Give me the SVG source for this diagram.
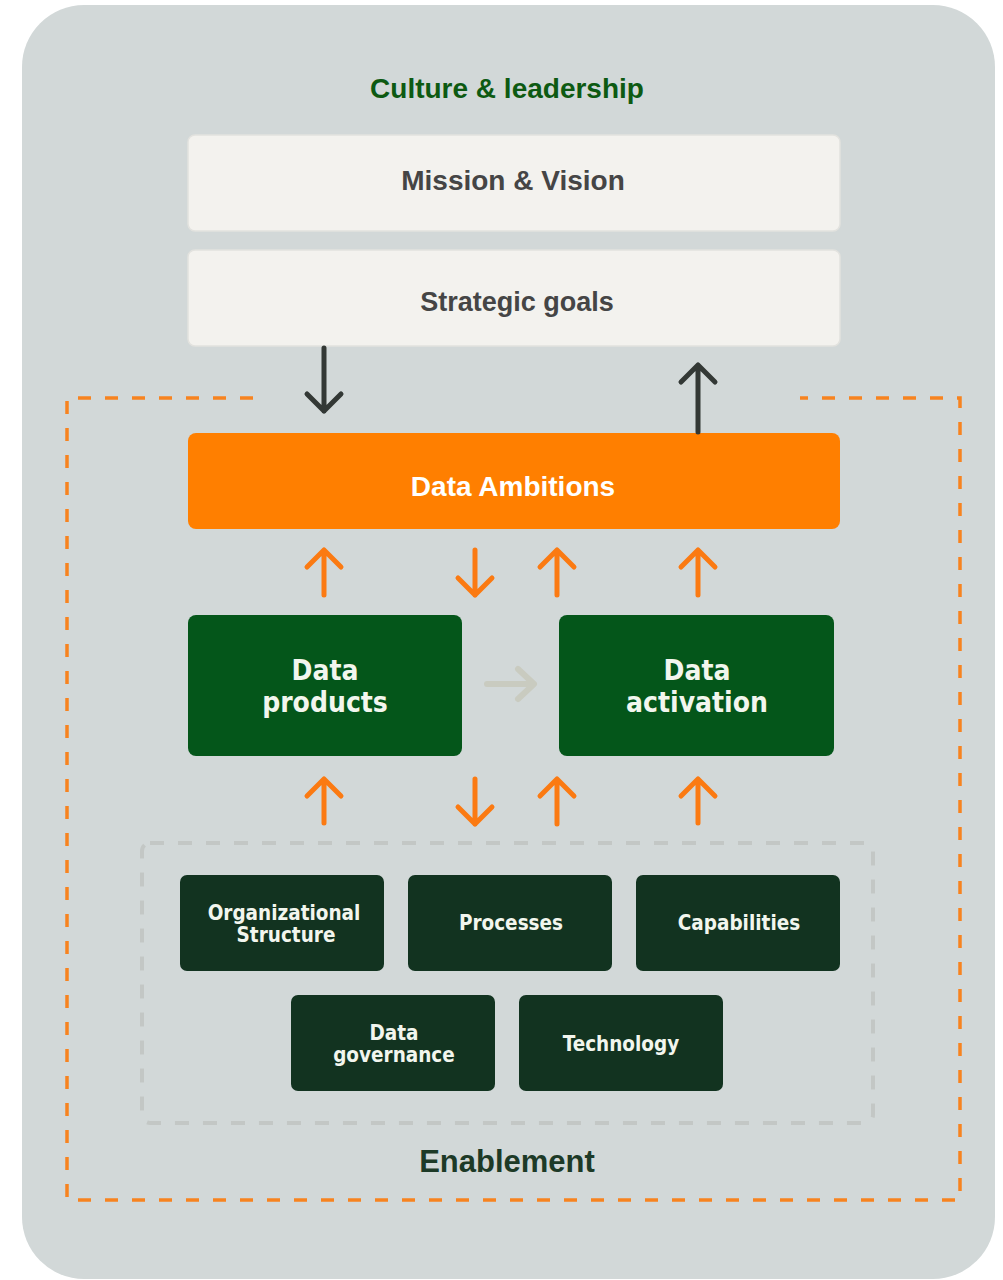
<svg xmlns="http://www.w3.org/2000/svg" width="1003" height="1280" viewBox="0 0 1003 1280">
<defs>
<style>
.bg{fill:#d2d8d8}
.light{fill:#f3f2ee;stroke:#e2e2de;stroke-width:1.5}
.ttl{font-family:"Liberation Sans",Arial,sans-serif;font-weight:bold;text-anchor:middle}
.grn{fill:#04561a}
.dk{fill:#123320}
.gt{font-family:"DejaVu Sans Condensed","DejaVu Sans",sans-serif;font-stretch:condensed;font-weight:bold;fill:#f2f6ee;text-anchor:middle}
.oa{fill:none;stroke:#fb7a12;stroke-width:5;stroke-linecap:round;stroke-linejoin:round}
.da{fill:none;stroke:#333835;stroke-width:5;stroke-linecap:round;stroke-linejoin:round}
.ga{fill:none;stroke:#c9cbc0;stroke-width:6;stroke-linecap:round;stroke-linejoin:round}
.od{fill:none;stroke:#f7831f;stroke-width:3.5;stroke-dasharray:13 14}
.gd{fill:none;stroke:#c3c7c5;stroke-width:4;stroke-dasharray:14 14}
</style>
</defs>
<rect width="1003" height="1280" fill="#ffffff"/>
<rect class="bg" x="22" y="5" width="973" height="1274" rx="62"/>
<text class="ttl" x="507" y="98" font-size="28" fill="#0d5a12">Culture &amp; leadership</text>

<g id="enablement-frame">
<path class="od" d="M253,398 H67 V1200 H960 V398 H800"/>
</g>
<g id="enablement-inner">
<rect class="gd" x="142" y="843" width="731" height="280" rx="8"/>
</g>

<g id="mission">
<rect class="light" x="188" y="135" width="652" height="96" rx="7"/>
<text class="ttl" x="513" y="190" font-size="28" fill="#454545">Mission &amp; Vision</text>
</g>
<g id="strategic">
<rect class="light" x="188" y="250" width="652" height="96" rx="7"/>
<text class="ttl" x="517" y="311" font-size="27" fill="#454545">Strategic goals</text>
</g>
<g id="ambitions">
<rect x="188" y="433" width="652" height="96" rx="8" fill="#ff7f00"/>
<text class="ttl" x="513" y="496" font-size="28" fill="#ffffff">Data Ambitions</text>
</g>
<g id="products">
<rect class="grn" x="188" y="615" width="274" height="141" rx="8"/>
<text class="gt" x="325" y="680" font-size="28">Data</text>
<text class="gt" x="325" y="712" font-size="28">products</text>
</g>
<g id="activation">
<rect class="grn" x="559" y="615" width="275" height="141" rx="8"/>
<text class="gt" x="697" y="680" font-size="28">Data</text>
<text class="gt" x="697" y="712" font-size="28">activation</text>
</g>
<g id="org">
<rect class="dk" x="180" y="875" width="204" height="96" rx="7"/>
<text class="gt" x="284" y="920" font-size="20.5">Organizational</text>
<text class="gt" x="286" y="942" font-size="20.5">Structure</text>
</g>
<g id="processes">
<rect class="dk" x="408" y="875" width="204" height="96" rx="7"/>
<text class="gt" x="511" y="930" font-size="20.5">Processes</text>
</g>
<g id="capabilities">
<rect class="dk" x="636" y="875" width="204" height="96" rx="7"/>
<text class="gt" x="739" y="930" font-size="20.5">Capabilities</text>
</g>
<g id="governance">
<rect class="dk" x="291" y="995" width="204" height="96" rx="7"/>
<text class="gt" x="394" y="1040" font-size="20.5">Data</text>
<text class="gt" x="394" y="1062" font-size="20.5">governance</text>
</g>
<g id="technology">
<rect class="dk" x="519" y="995" width="204" height="96" rx="7"/>
<text class="gt" x="621" y="1051" font-size="20.5">Technology</text>
</g>
<text class="ttl" x="507" y="1172" font-size="31" fill="#1d3a27">Enablement</text>

<g id="connectors">
<path class="da" d="M324,348 V411 M307,394 L324,411 L341,394"/>
<path class="da" d="M698,432 V365 M681,382 L698,365 L715,382"/>
<path class="oa" d="M324,595 V550 M307,567 L324,550 L341,567"/>
<path class="oa" d="M475,550 V595 M458,578 L475,595 L492,578"/>
<path class="oa" d="M557,595 V550 M540,567 L557,550 L574,567"/>
<path class="oa" d="M698,595 V550 M681,567 L698,550 L715,567"/>
<path class="oa" d="M324,823 V779 M307,796 L324,779 L341,796"/>
<path class="oa" d="M475,779 V824 M458,807 L475,824 L492,807"/>
<path class="oa" d="M557,824 V779 M540,796 L557,779 L574,796"/>
<path class="oa" d="M698,823 V779 M681,796 L698,779 L715,796"/>
<path class="ga" d="M487,684 H533 M518,669 L534,684 L518,699"/>
</g>
</svg>
